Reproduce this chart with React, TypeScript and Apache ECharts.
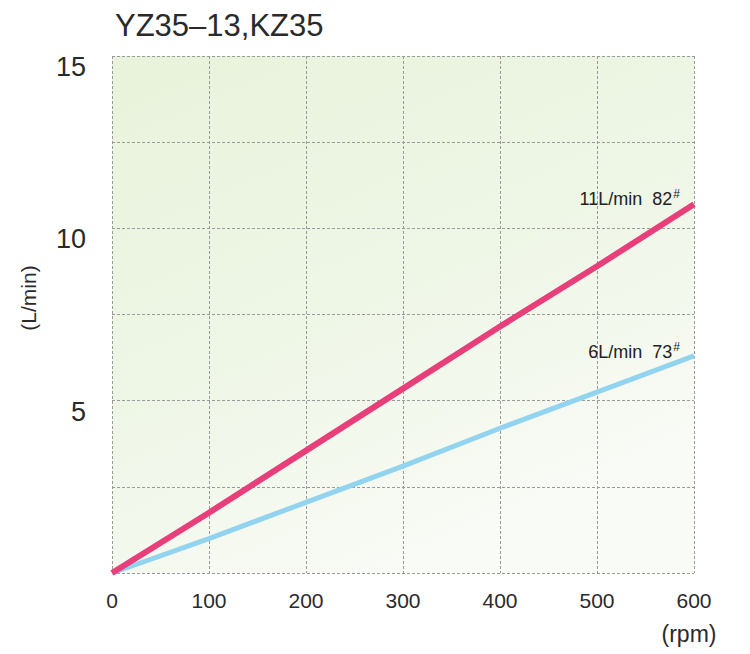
import React, { useEffect, useRef } from "react";
import * as echarts from "echarts";

const rpm = [0, 100, 200, 300, 400, 500, 600];
const flow82 = [0, 1.75, 3.55, 5.35, 7.15, 8.9, 10.7];
const flow73 = [0, 1.0, 2.05, 3.1, 4.2, 5.25, 6.3];
const seriesNames = ["11L/min  82", "6L/min  73"];
const titleText = "YZ35\u201313,KZ35";
const yName = "(L/min)";
const xName = "(rpm)";

const font = "'Liberation Sans', Arial, sans-serif";

export default function App() {
  const ref = useRef<HTMLDivElement>(null);
  useEffect(() => {
    document.body.style.margin = "0";
    const chart = echarts.init(ref.current!, null, { renderer: "svg" });
    const endLabel = (name: string, dy: number) => ({
      show: true,
      position: "left",
      distance: 14,
      offset: [0, dy],
      formatter: (p: any) => (p.dataIndex === rpm.length - 1 ? `{a|${name}}{s|#}` : ""),
      rich: {
        a: { fontFamily: font, fontSize: 18, color: "#222" },
        s: { fontFamily: font, fontSize: 12, color: "#222", verticalAlign: "top", padding: [0, 0, 10, 1] },
      },
    });
    chart.setOption({
      animation: false,
      backgroundColor: "#ffffff",
      title: {
        text: titleText,
        left: 110,
        top: 5,
        textStyle: { fontFamily: font, fontSize: 31, fontWeight: "normal", color: "#2a2a2a" },
      },
      grid: {
        left: 112,
        right: 56,
        top: 56,
        bottom: 81,
        show: true,
        borderWidth: 0,
        backgroundColor: {
          type: "linear",
          x: 0,
          y: 0,
          x2: 0.5,
          y2: 1,
          colorStops: [
            { offset: 0, color: "#e9f3db" },
            { offset: 0.55, color: "#eef6e6" },
            { offset: 1, color: "#f9fbf6" },
          ],
        },
      },
      xAxis: {
        type: "value",
        min: 0,
        max: 600,
        interval: 100,
        axisLine: { show: false },
        axisTick: { show: false },
        axisLabel: { margin: 17, fontFamily: font, fontSize: 21, color: "#2a2a2a" },
        splitLine: { show: true, lineStyle: { color: "#9a9a9a", type: [3, 2], width: 1 } },
      },
      yAxis: {
        type: "value",
        min: 0,
        max: 15,
        interval: 2.5,
        axisLine: { show: false },
        axisTick: { show: false },
        axisLabel: {
          margin: 26,
          fontFamily: font,
          fontSize: 27,
          color: "#2a2a2a",
          verticalAlign: "top",
          lineHeight: 22,
          formatter: (v: number) => (v > 0 && v % 5 === 0 ? String(v) : ""),
        },
        splitLine: { show: true, lineStyle: { color: "#9a9a9a", type: [3, 2], width: 1 } },
      },
      graphic: [
        {
          type: "text",
          x: 28,
          y: 298,
          rotation: Math.PI / 2,
          style: {
            text: yName,
            fontFamily: font,
            fontSize: 21,
            fill: "#2a2a2a",
            textAlign: "center",
            textVerticalAlign: "middle",
          },
        },
        {
          type: "text",
          x: 689,
          y: 634,
          style: {
            text: xName,
            fontFamily: font,
            fontSize: 23,
            fill: "#2a2a2a",
            textAlign: "center",
            textVerticalAlign: "middle",
          },
        },
      ],
      series: [
        {
          name: seriesNames[0],
          type: "line",
          data: rpm.map((r, i) => [r, flow82[i]]),
          symbol: "circle",
          symbolSize: 0,
          showSymbol: true,
          clip: false,
          lineStyle: { color: "#e83f7b", width: 6 },
          itemStyle: { color: "#e83f7b" },
          label: endLabel(seriesNames[0], -5),
          z: 3,
        },
        {
          name: seriesNames[1],
          type: "line",
          data: rpm.map((r, i) => [r, flow73[i]]),
          symbol: "circle",
          symbolSize: 0,
          showSymbol: true,
          clip: false,
          lineStyle: { color: "#92d4ef", width: 5 },
          itemStyle: { color: "#92d4ef" },
          label: endLabel(seriesNames[1], -4),
          z: 2,
        },
      ],
    });
    return () => chart.dispose();
  }, []);
  return <div ref={ref} style={{ width: 750, height: 654 }} />;
}
